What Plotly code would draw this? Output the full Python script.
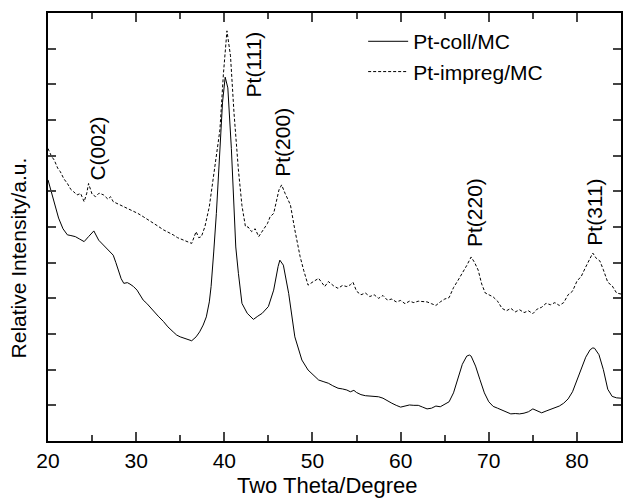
import plotly.graph_objects as go

coll_x = [20.0,20.4,20.7,21.2,21.7,22.2,22.6,23.1,23.6,24.1,24.6,25.2,25.75,26.2,26.7,27.1,27.4,27.7,28.0,28.3,
          28.6,29.0,29.3,29.7,30.1,30.5,30.8,31.2,31.6,32.0,32.5,33.1,33.6,34.2,34.6,35.0,35.5,35.9,36.3,36.8,
          37.2,37.6,37.96,38.3,38.5,38.8,39.1,39.5,39.8,40.1,40.4,40.8,41.3,41.6,42.0,42.6,43.3,43.8,44.3,45.0,
          45.6,46.1,46.3,46.7,47.3,48.0,48.8,49.5,50.1,50.7,51.3,51.8,52.3,52.9,53.4,53.9,54.3,54.7,55.0,55.5,
          56.0,56.5,57.0,57.5,58.0,58.5,59.0,59.5,60.0,60.5,61.0,61.5,62.0,62.5,63.0,63.5,64.0,64.5,65.0,65.5,
          66.0,66.5,67.0,67.5,67.8,68.0,68.5,69.0,69.5,70.0,70.5,71.0,71.5,72.0,72.5,73.0,73.5,74.0,74.5,75.0,
          75.5,76.0,76.5,77.0,77.5,78.0,78.5,79.0,79.5,80.0,80.5,81.0,81.5,81.8,82.0,82.5,83.0,83.5,84.0,84.5,
          85.0]
coll_y = [7.32,6.95,6.67,6.25,5.95,5.78,5.76,5.73,5.66,5.59,5.73,5.89,5.63,5.52,5.4,5.3,5.21,5.0,4.79,4.55,
          4.42,4.44,4.4,4.33,4.23,4.08,3.95,3.86,3.74,3.63,3.5,3.35,3.2,3.06,2.97,2.92,2.88,2.84,2.81,2.92,
          3.06,3.25,3.48,3.9,4.33,5.3,6.38,8.16,9.5,10.2,9.9,8.2,5.44,4.7,3.86,3.58,3.41,3.5,3.58,3.77,
          4.23,4.89,5.07,4.93,4.14,2.92,2.27,1.99,1.85,1.71,1.66,1.62,1.55,1.48,1.46,1.43,1.38,1.42,1.36,1.3,
          1.27,1.26,1.24,1.24,1.2,1.12,1.06,1.0,0.95,0.98,1.01,1.0,1.0,0.95,0.9,0.92,0.98,0.96,1.04,1.1,
          1.35,1.72,2.15,2.38,2.41,2.38,2.1,1.72,1.35,1.1,0.97,0.92,0.86,0.8,0.76,0.77,0.76,0.78,0.82,0.9,
          0.84,0.79,0.84,0.88,0.92,0.98,1.06,1.18,1.38,1.7,2.0,2.35,2.56,2.61,2.6,2.42,2.0,1.45,1.25,1.21,
          1.2]

imp_x = [20.0,20.4,20.7,21.1,21.4,21.8,22.2,22.6,22.9,23.3,23.7,24.1,24.4,24.6,25.0,25.4,25.8,26.3,26.8,27.1,
         27.4,28.0,28.6,29.1,29.7,30.2,30.8,31.4,32.0,32.5,33.1,33.6,34.2,34.7,35.3,35.8,36.3,36.8,37.1,37.4,
         37.8,38.3,38.9,39.5,39.9,40.3,40.7,41.1,41.6,42.0,42.4,42.7,43.1,43.5,43.9,44.5,44.9,45.2,45.6,46.2,
         46.5,46.9,47.5,48.0,48.6,49.0,49.5,50.1,50.7,51.4,51.8,52.4,52.9,53.4,53.9,54.3,54.6,55.0,55.5,56.0,
         56.5,57.0,57.5,58.0,58.5,59.0,59.5,60.0,60.5,61.0,61.5,62.0,62.5,63.0,63.5,64.0,64.5,65.0,65.5,66.0,
         66.5,67.0,67.5,68.0,68.4,68.8,69.2,69.6,70.0,70.5,71.0,71.5,72.0,72.5,73.0,73.5,74.0,74.5,75.0,75.5,
         76.0,76.5,77.0,77.5,78.0,78.5,79.0,79.5,80.0,80.5,81.0,81.5,81.8,82.2,82.6,83.0,83.5,84.0,84.5,85.0]
imp_y = [8.2,7.98,7.88,7.65,7.55,7.35,7.22,7.05,6.99,6.9,6.94,6.71,6.95,7.22,6.92,6.85,6.95,6.9,6.78,6.85,
         6.71,6.64,6.57,6.52,6.43,6.38,6.29,6.2,6.1,6.02,5.92,5.86,5.78,5.7,5.64,5.6,5.54,5.87,5.7,5.73,
         6.01,6.57,7.6,8.72,10.3,11.5,10.8,9.2,7.6,6.6,6.01,6.0,5.87,5.95,5.73,5.96,6.1,6.29,6.38,7.04,
         7.18,6.94,6.62,5.92,5.17,4.79,4.37,4.47,4.56,4.33,4.47,4.35,4.28,4.36,4.33,4.38,4.45,4.2,4.1,4.15,
         4.05,4.1,4.0,4.08,3.95,3.98,3.9,3.94,3.85,3.92,3.88,3.92,3.9,3.9,3.85,3.8,3.9,3.98,4.02,4.3,
         4.5,4.7,4.92,5.16,5.0,4.79,4.4,4.15,4.1,4.04,3.92,3.72,3.65,3.72,3.62,3.68,3.6,3.65,3.57,3.7,
         3.75,3.86,3.82,3.88,3.8,3.88,4.1,4.2,4.48,4.62,4.88,5.1,5.27,5.12,5.05,4.8,4.45,4.35,4.15,4.12]

peak_labels = ["C(002)", "Pt(111)", "Pt(200)", "Pt(220)", "Pt(311)"]
peak_pos_x = [25.64, 43.3, 46.5, 68.4, 81.9]
peak_pos_y = [8.19, 10.57, 8.38, 6.41, 6.42]

FONT = "Liberation Sans, Arial, sans-serif"
FS = 21

fig = go.Figure()
fig.add_trace(go.Scatter(x=coll_x, y=coll_y, mode="lines", name="Pt-coll/MC",
                         line=dict(color="black", width=1)))
fig.add_trace(go.Scatter(x=imp_x, y=imp_y, mode="lines", name="Pt-impreg/MC",
                         line=dict(color="black", width=1, dash="3px,2px")))

for t, px, py in zip(peak_labels, peak_pos_x, peak_pos_y):
    fig.add_annotation(x=px, y=py, text=t, textangle=-90, showarrow=False,
                       font=dict(size=FS, color="black", family=FONT))

# plot area: x 48..623, y 13..441 (575 x 428)
fig.add_annotation(xref="paper", yref="paper", x=0.487, y=-0.1379, yanchor="bottom",
                   text="Two Theta/Degree", showarrow=False,
                   font=dict(size=22, color="black", family=FONT))
fig.add_annotation(xref="paper", yref="paper", x=-0.052, y=0.427, xanchor="center",
                   text="Relative Intensity/a.u.", textangle=-90, showarrow=False,
                   font=dict(size=FS, color="black", family=FONT))

fig.update_layout(
    width=624, height=500,
    margin=dict(l=48, r=1, t=13, b=59),
    paper_bgcolor="white", plot_bgcolor="white",
    font=dict(family=FONT, size=FS, color="black"),
    showlegend=True,
    legend=dict(x=0.55, y=0.981, xanchor="left", yanchor="top",
                bgcolor="rgba(0,0,0,0)", font=dict(size=FS), tracegroupgap=0,
                itemwidth=40),
)
fig.update_xaxes(range=[20, 85], dtick=10, ticks="inside", ticklen=9, tickwidth=1.5,
                 showline=True, linewidth=2, linecolor="black", mirror="ticks",
                 showgrid=False, zeroline=False,
                 minor=dict(ticks="inside", dtick=5, ticklen=6, tickwidth=1.5, showgrid=False),
                 tickfont=dict(size=FS))
fig.update_yaxes(range=[0, 12], dtick=1, ticks="inside", ticklen=8, tickwidth=1.5,
                 showticklabels=False,
                 showline=True, linewidth=2, linecolor="black", mirror="ticks",
                 showgrid=False, zeroline=False)

# remove the browser's default 8px body margin so the 624x500 figure fills the window exactly
fig.write_html("out.html", config={"displayModeBar": False},
               post_script="document.body.style.margin='0';")
